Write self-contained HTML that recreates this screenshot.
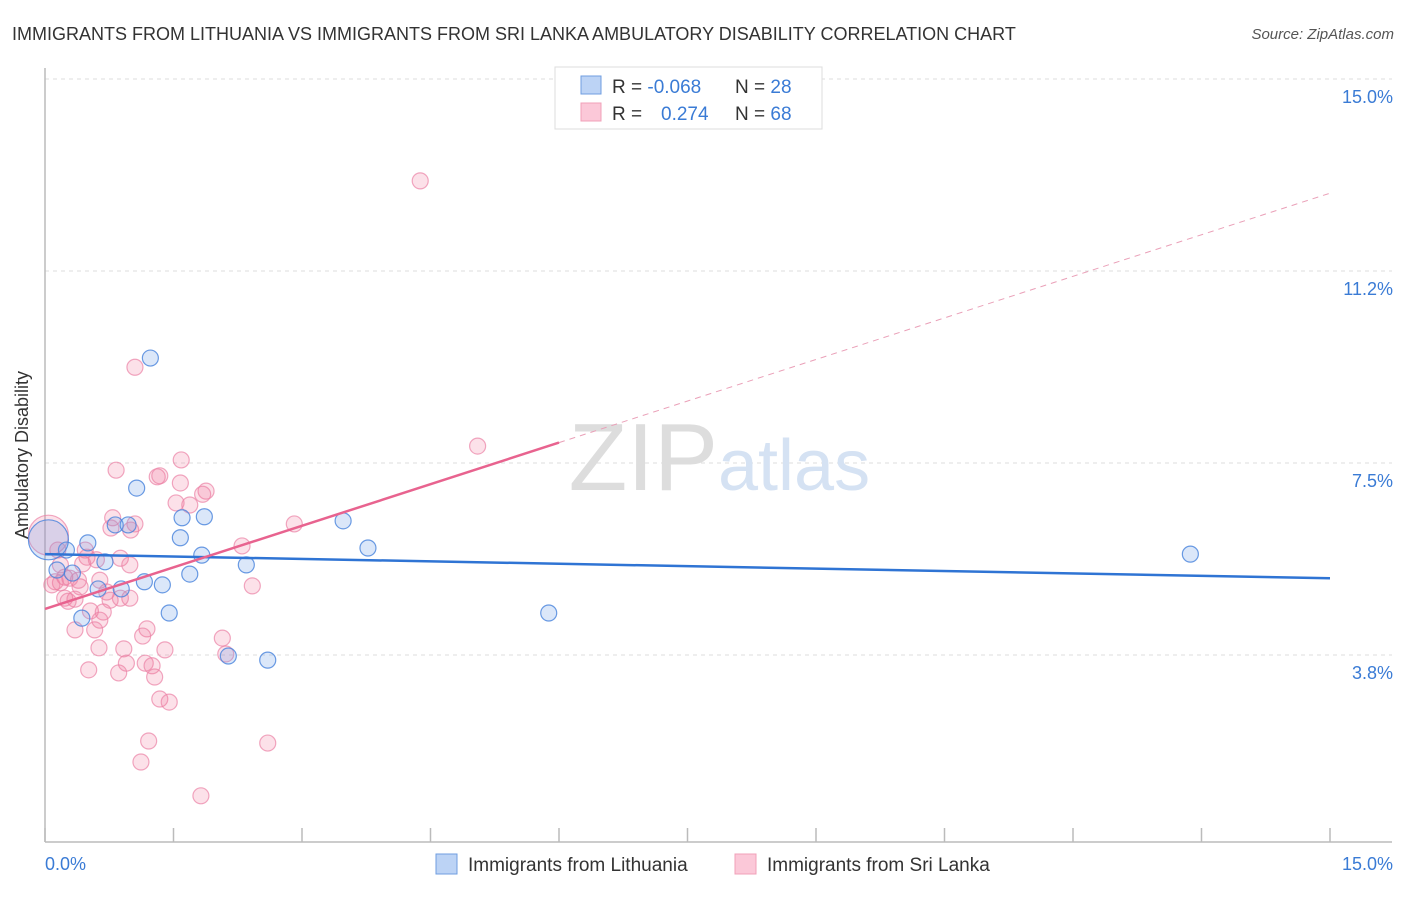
<!DOCTYPE html>
<html><head><meta charset="utf-8"><style>
body{margin:0;background:#fff;font-family:"Liberation Sans",sans-serif;}
svg text{font-family:"Liberation Sans",sans-serif;}
</style></head><body>
<svg width="1406" height="892" xmlns="http://www.w3.org/2000/svg" id="chart">
<text x="12" y="40" font-size="18" fill="#333">IMMIGRANTS FROM LITHUANIA VS IMMIGRANTS FROM SRI LANKA AMBULATORY DISABILITY CORRELATION CHART</text>
<text x="1394" y="39" font-size="15" fill="#555" text-anchor="end" font-style="italic">Source: ZipAtlas.com</text>
<g id="grid"></g>
<text x="718" y="490" font-size="96" fill="#ddd" text-anchor="end" font-family="Liberation Serif">ZIP</text>
<text x="718" y="490" font-size="72" fill="#d5e2f3">atlas</text>
<line x1="45" y1="68" x2="45" y2="842" stroke="#bbb" stroke-width="1.5"/>
<line x1="45" y1="842" x2="1392" y2="842" stroke="#bbb" stroke-width="1.5"/>
<g id="xticks"></g>
<g id="points"></g>
<g id="trends"></g>
<text x="28" y="455" font-size="18" fill="#333" text-anchor="middle" transform="rotate(-90 28 455)">Ambulatory Disability</text>
<text x="45" y="870" font-size="18" fill="#3a7bd5">0.0%</text>
<text x="1393" y="870" font-size="18" fill="#3a7bd5" text-anchor="end">15.0%</text>
<g>
<rect x="555" y="67" width="267" height="62" fill="#fff" stroke="#ddd"/>
<rect x="581" y="76" width="20" height="18" fill="#bcd3f5" stroke="#6f9ee0"/>
<rect x="581" y="103" width="20" height="18" fill="#fbc8d8" stroke="#f0a0b8"/>
<text x="612" y="93" font-size="19" fill="#333">R = <tspan fill="#3a7bd5">-0.068</tspan></text>
<text x="735" y="93" font-size="19" fill="#333">N = <tspan fill="#3a7bd5">28</tspan></text>
<text x="612" y="120" font-size="19" fill="#333">R = <tspan fill="#3a7bd5" x="661">0.274</tspan></text>
<text x="735" y="120" font-size="19" fill="#333">N = <tspan fill="#3a7bd5">68</tspan></text>
</g>
<g>
<rect x="436" y="854" width="21" height="20" fill="#bcd3f5" stroke="#6f9ee0"/>
<text x="468" y="871" font-size="19" fill="#333">Immigrants from Lithuania</text>
</g>
<g>
<rect x="735" y="854" width="21" height="20" fill="#fbc8d8" stroke="#f0a0b8"/>
<text x="767" y="871" font-size="19" fill="#333">Immigrants from Sri Lanka</text>
</g>
</svg>
<script>
const yTicks=[3.8,7.5,11.2,15.0];
const yTickVals=[3.75,7.5,11.25,15];
const xTickVals=[0,1.5,3,4.5,6,7.5,9,10.5,12,13.5,15];
const blueX=[1.23,1.07,1.60,1.86,1.58,0.82,0.97,0.50,0.25,0.70,1.83,2.35,1.69,1.16,1.37,0.89,0.62,0.32,0.14,0.43,1.45,2.14,2.60,3.48,3.77,5.88,13.37,0.04];
const blueY=[9.55,7.01,6.43,6.45,6.04,6.29,6.29,5.94,5.80,5.57,5.70,5.51,5.33,5.18,5.12,5.04,5.04,5.35,5.41,4.47,4.57,3.73,3.65,6.37,5.84,4.57,5.72,6.0];
const pinkX=[4.38,1.05,5.05,0.83,1.59,1.31,1.34,1.58,1.53,1.88,1.84,0.79,0.77,1.05,1.00,2.91,2.30,0.88,0.49,0.60,0.44,2.42,0.23,0.12,0.18,0.08,0.41,0.72,0.99,0.23,0.35,0.27,0.53,0.68,0.64,0.35,0.58,1.19,1.14,0.63,0.92,1.40,2.07,0.51,0.86,0.95,1.17,1.25,1.28,1.34,1.45,1.21,1.12,2.60,1.82,2.11,0.04,0.18,0.39,0.76,0.29,0.64,0.15,0.47,0.88,1.69,0.99];
const pinkY=[13.01,9.37,7.83,7.36,7.56,7.23,7.25,7.11,6.72,6.95,6.89,6.43,6.23,6.31,6.19,6.31,5.88,5.64,5.66,5.61,5.53,5.10,5.27,5.18,5.16,5.12,5.08,4.98,4.86,4.86,4.84,4.80,4.61,4.59,4.43,4.24,4.24,4.26,4.12,3.89,3.87,3.85,4.08,3.46,3.40,3.59,3.59,3.54,3.32,2.89,2.83,2.07,1.66,2.03,1.0,3.77,6.09,5.51,5.21,4.82,5.25,5.21,5.80,5.80,4.86,6.68,5.51];
const blueTrend=[5.72,5.25];
const pinkTrend=[4.65,12.77];
const pinkSolidEnd=6.0;
const NS='http://www.w3.org/2000/svg';
const sx=v=>45+v*(1285/15);
const sy=v=>79+(15-v)*51.2;
function mk(tag,attrs,parent){const e=document.createElementNS(NS,tag);for(const k in attrs)e.setAttribute(k,attrs[k]);parent.appendChild(e);return e;}
const grid=document.getElementById('grid');
yTickVals.forEach((v,i)=>{
 const l=mk('line',{x1:45,x2:1392,y1:sy(v),y2:sy(v),stroke:'#ddd','stroke-dasharray':'4,4'},grid);
 
 
 const t=mk('text',{x:1393,y:sy(v)+24,'font-size':18,fill:'#3a7bd5','text-anchor':'end'},grid);
 t.textContent=yTicks[i].toFixed(1)+'%';
 
 
});
const xt=document.getElementById('xticks');
xTickVals.forEach(v=>{
 const l=mk('line',{x1:sx(v),x2:sx(v),y1:828,y2:842,stroke:'#bbb','stroke-width':1.5},xt);
 
 
});
const pts=document.getElementById('points');
pinkX.forEach((x,i)=>{
 const c=mk('circle',{cx:sx(x),cy:sy(pinkY[i]),r:x<0.06?20:8,fill:'rgba(240,120,155,0.22)',stroke:'rgba(235,130,165,0.7)','stroke-width':1.2},pts);
 
 
});
blueX.forEach((x,i)=>{
 const c=mk('circle',{cx:sx(x),cy:sy(blueY[i]),r:x<0.06?20:8,fill:'rgba(110,160,230,0.25)',stroke:'rgba(70,130,220,0.8)','stroke-width':1.2},pts);
 
 
});
const tr=document.getElementById('trends');
const bl=mk('line',{x1:sx(0),y1:sy(blueTrend[0]),x2:sx(15),y2:sy(blueTrend[1]),stroke:'#2f74d4','stroke-width':2.5},tr);


const pAt=x=>pinkTrend[0]+(pinkTrend[1]-pinkTrend[0])*x/15;
const pl=mk('line',{x1:sx(0),y1:sy(pAt(0)),x2:sx(pinkSolidEnd),y2:sy(pAt(pinkSolidEnd)),stroke:'#e8638f','stroke-width':2.5},tr);


const pd=mk('line',{x1:sx(pinkSolidEnd),y1:sy(pAt(pinkSolidEnd)),x2:sx(15),y2:sy(pAt(15)),stroke:'#eaa0b8','stroke-width':1,'stroke-dasharray':'6,5'},tr);


</script>
</body></html>
